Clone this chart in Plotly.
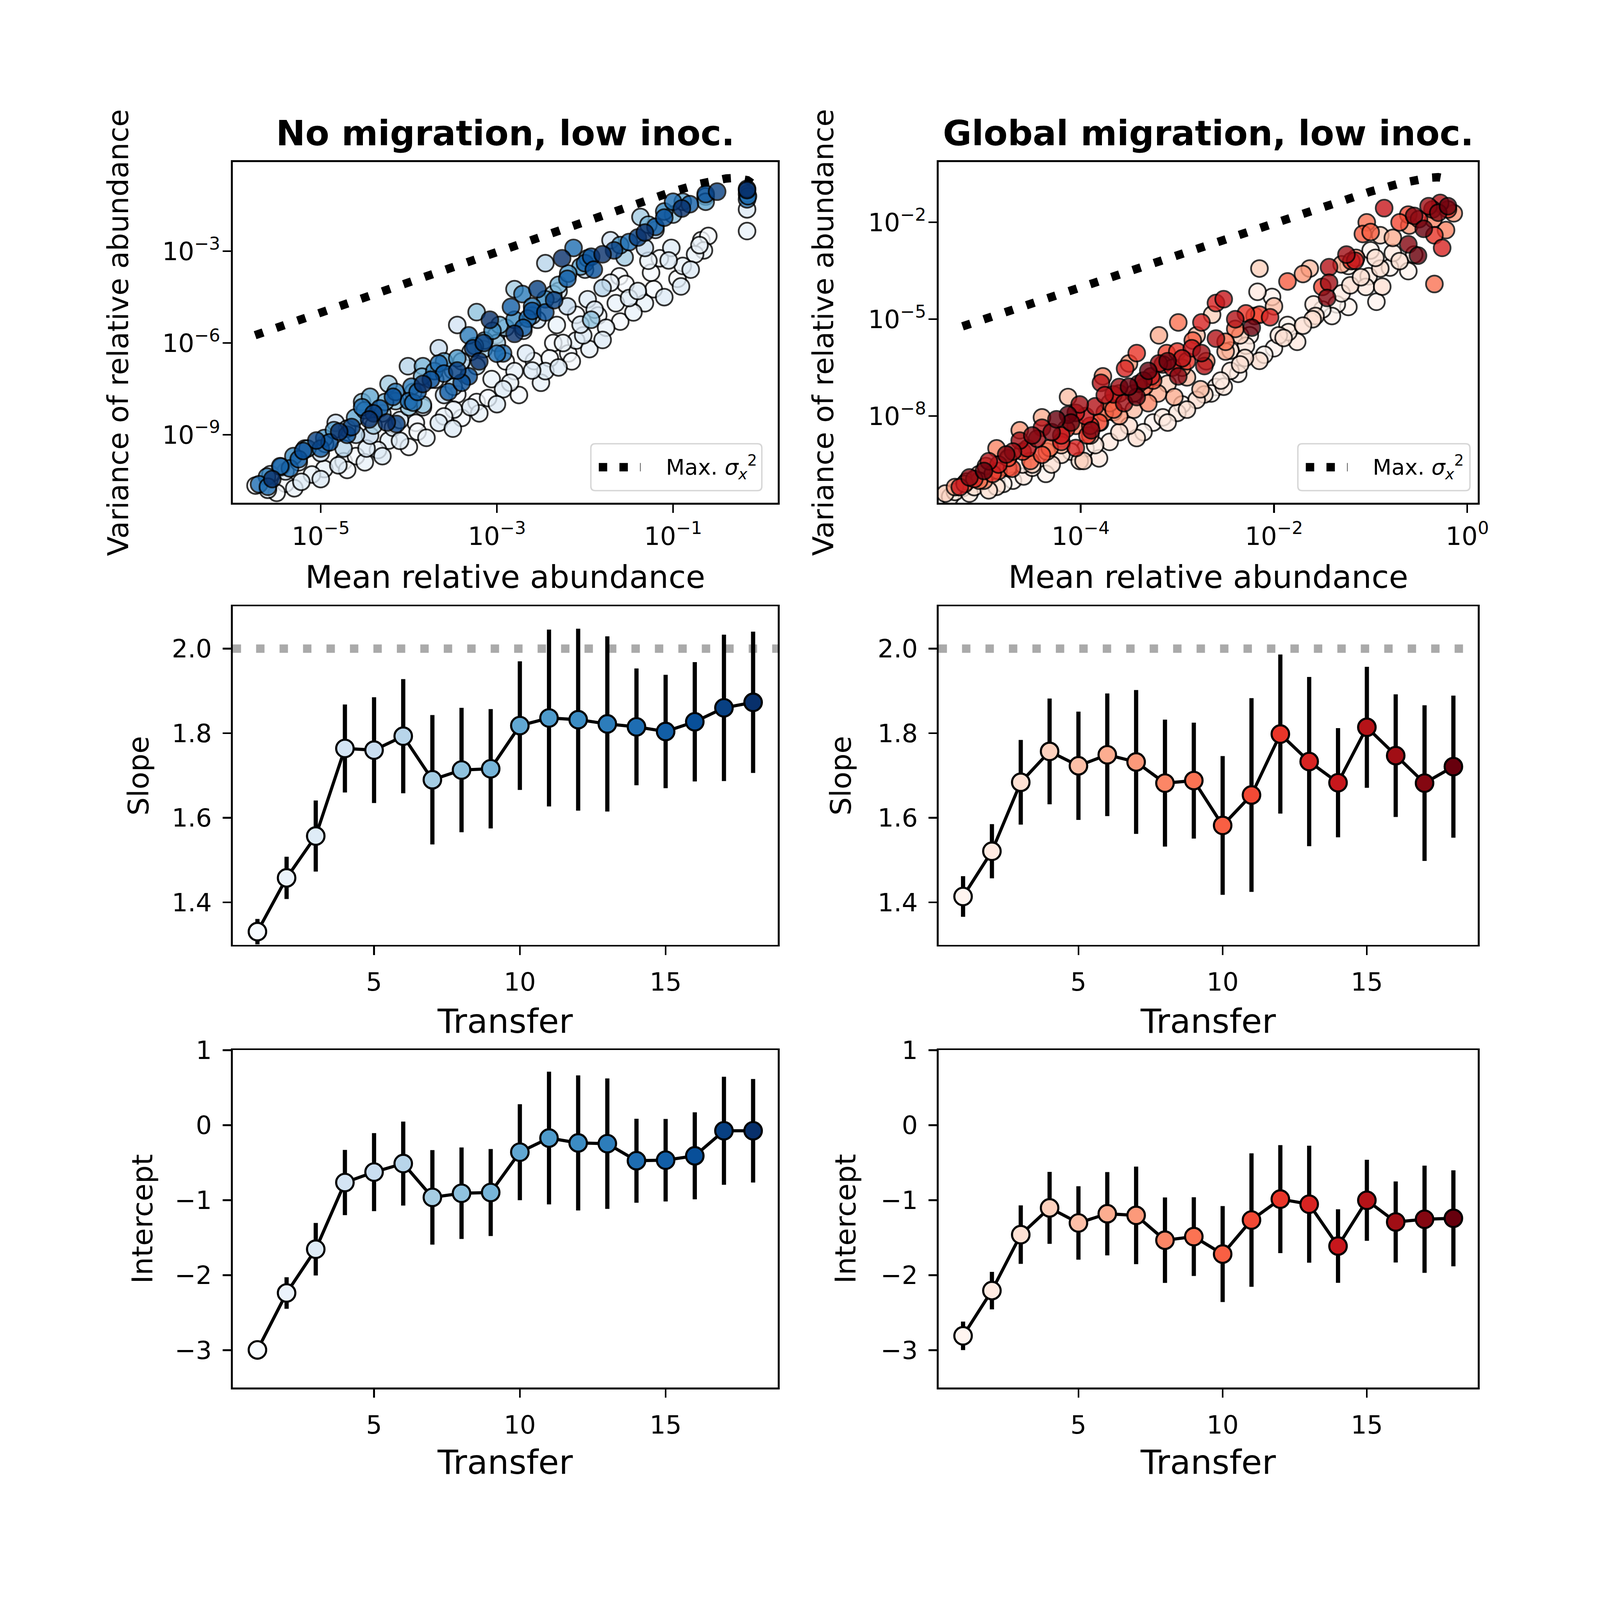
import plotly.graph_objects as go
from plotly.subplots import make_subplots
from plotly.colors import sequential, sample_colorscale

FONT = "DejaVu Sans"
FIG_W, FIG_H = 4570, 4536

transfers = list(range(1, 19))

# fitted Taylor's law slope / intercept (mean and error) per transfer
nomig_slope = [1.331, 1.458, 1.557, 1.764, 1.760, 1.793, 1.690, 1.713, 1.716,
               1.818, 1.836, 1.832, 1.822, 1.815, 1.804, 1.827, 1.860, 1.873]
nomig_slope_err = [0.030, 0.050, 0.084, 0.104, 0.125, 0.135, 0.153, 0.147, 0.141,
                   0.152, 0.209, 0.215, 0.207, 0.138, 0.134, 0.141, 0.173, 0.167]
nomig_icpt = [-2.997, -2.238, -1.654, -0.765, -0.626, -0.512, -0.963, -0.908, -0.898,
              -0.360, -0.172, -0.237, -0.247, -0.474, -0.467, -0.409, -0.075, -0.075]
nomig_icpt_err = [0.02, 0.21, 0.35, 0.435, 0.52, 0.56, 0.63, 0.61, 0.58,
                  0.64, 0.885, 0.90, 0.87, 0.56, 0.55, 0.58, 0.72, 0.69]

glob_slope = [1.414, 1.521, 1.684, 1.757, 1.723, 1.749, 1.732, 1.682, 1.688,
              1.582, 1.654, 1.798, 1.733, 1.683, 1.814, 1.747, 1.682, 1.721]
glob_slope_err = [0.048, 0.064, 0.100, 0.125, 0.128, 0.145, 0.170, 0.150, 0.137,
                  0.164, 0.229, 0.188, 0.200, 0.129, 0.143, 0.145, 0.184, 0.168]
glob_icpt = [-2.809, -2.206, -1.460, -1.103, -1.304, -1.181, -1.203, -1.534, -1.486,
             -1.719, -1.265, -0.986, -1.054, -1.612, -1.002, -1.291, -1.255, -1.242]
glob_icpt_err = [0.19, 0.25, 0.39, 0.48, 0.49, 0.555, 0.65, 0.57, 0.525,
                 0.64, 0.89, 0.72, 0.78, 0.49, 0.54, 0.54, 0.715, 0.64]

# scatter clouds: transfer, log10 mean, log10 variance of each species
nomig_transfer = [
    1, 2, 3, 1, 2, 3, 1, 2, 3, 1, 2, 3, 1, 2, 3, 1, 2, 3, 1, 2,
    3, 1, 2, 3, 1, 2, 3, 1, 2, 3, 1, 2, 3, 1, 2, 3, 1, 2, 3, 1,
    2, 3, 1, 2, 3, 1, 2, 3, 1, 2, 3, 1, 2, 3, 1, 2, 3, 1, 2, 3,
    1, 2, 3, 1, 2, 3, 1,
    4, 5, 6, 7, 8, 4, 5, 6, 7, 8, 4, 5, 6, 7, 8, 4, 5, 6, 7, 8,
    4, 5, 6, 7, 8, 4, 5, 6, 7, 8, 4, 5, 6, 7, 8, 4, 5, 6,
    9, 10, 11, 12, 13, 9, 10, 11, 12, 13, 9, 10, 11, 12, 13, 9, 10, 11, 12, 13,
    9, 10,
    14, 15, 16, 17, 18, 14, 15, 16, 17, 18, 14, 15, 16, 17, 18, 14, 15, 16, 17, 18,
    14, 15, 16, 17, 18, 14, 15, 16, 17, 18, 14, 15, 16, 17, 18, 14, 15, 16, 17, 18,
    14, 15, 16, 17, 18, 14, 15, 16, 17, 18, 14,
    1, 2, 3, 1, 2, 3, 1, 2, 3, 1, 2, 3, 1, 2, 3, 1, 2, 3, 1, 2,
    3, 1, 2, 3, 1,
    4, 5, 6, 7, 8, 4, 5, 6, 7, 8, 4, 5, 6, 7, 8,
    9, 10, 11, 12, 13, 9, 10, 11, 12, 13, 9, 10, 11, 12, 13,
    14, 15, 16, 17, 18, 14, 15, 16, 17, 18, 14, 15, 16, 17, 18,
]
nomig_log_mean = [
    -0.68, -0.65, -1.02, -1.15, -0.89, -0.91, -1.22, -1.32, -1.50, -1.61,
    -1.71, -1.97, -2.10, -1.76, -2.02, -2.19, -2.32, -2.45, -2.58, -2.80,
    -2.93, -3.23, -3.49, -3.66, -3.92, -4.23, -4.48, -4.74, -4.96, -5.22,
    -5.74, -0.16, -0.16, -3.45, -3.84, -4.18, -4.44, -3.06, -2.67, -2.36,
    -2.10, -1.89, -1.54, -1.28, -5.60, -5.40, -5.10, -4.80, -4.60, -4.35,
    -4.10, -3.90, -3.60, -3.30, -3.10, -2.85, -2.60, -2.40, -2.25, -2.05,
    -1.85, -1.65, -1.40, -1.25, -0.75, -0.80, -0.95,
    -1.71, -1.32, -2.45, -2.80, -3.23, -3.45, -3.66, -4.01, -4.23, -4.53,
    -4.83, -5.18, -5.57, -2.36, -1.93, -2.54, -3.01, -3.23, -3.49, -3.84,
    -4.10, -4.44, -4.74, -1.37, -0.63, -5.40, -5.00, -4.60, -4.30, -4.00,
    -3.70, -3.50, -3.30, -3.00, -2.60, -2.30, -2.00, -1.20,
    -1.28, -0.89, -2.19, -2.45, -2.71, -2.97, -3.14, -3.45, -3.71, -3.97,
    -4.27, -4.61, -4.96, -5.31, -5.61, -0.16, -0.63, -1.97, -2.80, -3.32,
    -3.84, -4.44,
    -5.70, -5.46, -5.20, -5.05, -4.79, -4.53, -4.33, -4.18, -4.14, -3.84,
    -3.66, -3.55, -3.32, -3.27, -3.08, -2.93, -2.84, -2.60, -2.54, -2.26,
    -2.13, -2.00, -1.93, -1.67, -1.32, -1.00, -0.81, -0.63, -0.16, -5.55,
    -5.35, -5.00, -4.90, -4.65, -4.45, -4.00, -3.90, -3.75, -3.45, -3.20,
    -3.00, -2.70, -2.45, -2.35, -1.80, -1.50, -1.20, -1.10, -0.50, -0.16,
    -0.15,
    -5.50, -5.30, -5.00, -4.70, -4.50, -4.30, -4.00, -3.80, -3.50, -3.40,
    -3.20, -3.00, -2.75, -2.50, -2.30, -2.15, -1.95, -1.80, -1.60, -1.45,
    -1.10, -0.60, -0.70, -1.05, -2.90,
    -5.25, -4.95, -4.70, -4.40, -4.15, -3.95, -3.60, -3.40, -3.15, -2.90,
    -2.70, -2.20, -1.80, -1.55, -1.00,
    -5.45, -5.15, -4.85, -4.50, -4.15, -3.85, -3.60, -3.25, -3.05, -2.60,
    -2.30, -2.05, -1.60, -1.10, -0.16,
    -5.60, -5.25, -4.70, -4.40, -4.25, -3.95, -3.60, -3.40, -3.15, -2.80,
    -2.65, -2.20, -1.90, -1.40, -0.90,
]
nomig_log_var = [
    -2.64, -2.97, -2.89, -3.23, -3.48, -4.15, -4.24, -4.70, -4.53, -3.82,
    -4.03, -4.57, -5.08, -5.50, -5.75, -6.34, -5.41, -6.92, -6.59, -6.92,
    -7.51, -7.93, -8.18, -8.61, -8.61, -9.19, -9.45, -9.87, -10.12, -10.54,
    -10.66, -2.34, -1.63, -7.68, -8.10, -8.77, -8.44, -7.18, -6.34, -6.00,
    -5.92, -4.91, -4.07, -3.31, -10.80, -10.60, -10.30, -10.00, -9.70, -9.50,
    -9.20, -8.90, -8.40, -8.10, -7.80, -7.30, -6.90, -6.50, -6.00, -5.40,
    -5.10, -4.70, -4.30, -3.70, -3.10, -3.60, -3.90,
    -2.64, -2.89, -3.39, -4.24, -4.99, -5.41, -6.17, -6.76, -7.34, -7.93,
    -8.61, -9.45, -10.29, -4.40, -5.24, -5.24, -5.75, -6.76, -7.43, -8.02,
    -8.52, -9.03, -9.45, -1.88, -1.21, -10.20, -9.60, -9.00, -8.30, -8.10,
    -7.20, -6.90, -6.30, -6.00, -5.10, -4.30, -3.60, -2.30,
    -2.13, -1.38, -3.73, -4.57, -4.40, -5.41, -5.92, -6.50, -6.92, -7.43,
    -7.93, -8.44, -9.11, -9.70, -10.37, -1.13, -1.38, -3.23, -5.24, -5.75,
    -6.76, -7.76,
    -10.62, -10.03, -9.53, -9.19, -8.90, -8.10, -8.14, -7.76, -8.65, -7.34,
    -6.67, -7.60, -7.09, -6.17, -5.24, -6.34, -4.82, -4.95, -4.24, -3.23,
    -2.89, -3.39, -3.18, -2.97, -2.39, -1.38, -1.46, -1.13, -0.96, -10.45,
    -10.10, -9.45, -9.25, -8.75, -8.50, -7.90, -7.60, -7.20, -6.90, -6.60,
    -6.35, -5.50, -5.00, -4.60, -3.10, -2.70, -2.20, -1.90, -1.05, -1.00,
    -1.20,
    -10.90, -10.75, -10.45, -10.15, -9.90, -9.70, -9.40, -9.10, -8.80, -8.45,
    -8.30, -8.00, -7.70, -7.30, -6.80, -6.60, -6.20, -5.90, -5.30, -5.00,
    -4.50, -2.50, -2.80, -3.30, -6.60,
    -9.90, -9.30, -8.80, -8.70, -7.90, -7.60, -7.70, -6.60, -6.20, -5.50,
    -5.60, -4.80, -4.20, -3.20, -1.80,
    -10.05, -9.45, -8.85, -8.20, -7.60, -7.10, -6.60, -6.10, -5.60, -4.80,
    -4.10, -3.50, -2.80, -1.70, -1.30,
    -10.70, -9.80, -9.00, -8.30, -8.60, -7.95, -7.00, -7.30, -6.00, -5.70,
    -5.20, -3.90, -3.60, -2.55, -1.60,
]

glob_transfer = [
    1, 2, 3, 1, 2, 3, 1, 2, 3, 1, 2, 3, 1, 2, 3, 1, 2, 3, 1, 2,
    3, 1, 2, 3, 1, 2, 3, 1, 2, 3, 1, 2, 3, 1, 2, 3, 1, 2, 3, 1,
    2, 3, 1, 2, 3, 1, 2, 3, 1, 2, 3, 1, 2, 3,
    4, 5, 6, 7, 8, 4, 5, 6, 7, 8, 4, 5, 6, 7, 8, 4, 5, 6, 7, 8,
    4, 5, 6, 7, 8, 4, 5, 6, 7, 8, 4,
    9, 10, 11, 12, 13, 9, 10, 11, 12, 13, 9, 10, 11, 12, 13, 9, 10, 11, 12, 13,
    9, 10, 11, 12, 13, 9, 10, 11, 12, 13, 9, 10, 11, 12, 13, 9, 10, 11, 12,
    14, 15, 16, 17, 18, 14, 15, 16, 17, 18, 14, 15, 16, 17, 18, 14, 15, 16, 17, 18,
    14, 15, 16, 17, 18, 14, 15, 16, 17, 18, 14, 15, 16, 17, 18, 14, 15, 16, 17, 18,
    14, 15, 16, 17, 18,
    1, 2, 3, 1, 2, 3, 1, 2, 3, 1, 2, 3, 1, 2, 3, 1, 2, 3, 1, 2,
    3, 1, 2, 3, 1,
    4, 5, 6, 7, 8, 4, 5, 6, 7, 8, 4, 5, 6, 7, 8,
    9, 10, 11, 12, 13, 9, 10, 11, 12, 13, 9, 10, 11, 12, 13,
    14, 15, 16, 17, 18, 14, 15, 16, 17, 18, 14, 15, 16, 17, 18,
]
glob_log_mean = [
    -1.00, -0.77, -0.90, -0.61, -1.02, -0.88, -0.94, -1.23, -1.21, -1.23,
    -1.59, -1.57, -1.86, -1.76, -1.90, -2.02, -2.17, -2.15, -2.37, -2.52,
    -2.72, -2.95, -3.15, -3.42, -3.66, -3.81, -4.01, -4.36, -4.59, -4.87,
    -5.22, -2.29, -2.45, -1.35, -5.30, -5.10, -4.70, -4.50, -4.20, -3.95,
    -3.70, -3.50, -3.25, -3.00, -2.80, -2.60, -2.45, -2.30, -2.00, -1.85,
    -1.60, -1.40, -1.05, -0.70,
    -2.15, -1.63, -0.77, -0.14, -0.22, -2.64, -2.80, -3.19, -3.50, -3.77,
    -3.97, -4.13, -4.40, -4.63, -4.87, -5.18, -2.76, -3.03, -5.30, -5.00,
    -4.50, -4.20, -3.90, -3.60, -3.30, -3.10, -2.90, -2.50, -1.70, -1.15,
    -0.90,
    -1.04, -1.08, -0.61, -0.34, -0.26, -0.34, -1.86, -2.15, -2.29, -2.04,
    -2.99, -2.84, -3.11, -3.42, -3.54, -3.34, -3.66, -3.81, -3.93, -4.05,
    -4.32, -4.52, -4.71, -4.91, -5.10, -4.98, -5.20, -4.75, -4.60, -4.20,
    -3.75, -3.60, -3.25, -3.00, -2.60, -2.40, -1.00, -0.70, -0.20,
    -0.86, -0.28, -0.36, -0.61, -0.51, -1.16, -1.43, -1.43, -1.45, -2.23,
    -2.52, -2.72, -3.19, -2.99, -3.42, -3.66, -3.79, -4.01, -3.89, -4.13,
    -4.20, -4.40, -4.63, -4.77, -3.50, -3.27, -2.95, -2.75, -5.15, -5.00,
    -4.85, -4.55, -4.45, -4.30, -4.10, -3.95, -3.85, -3.55, -3.40, -3.30,
    -3.05, -2.60, -0.40, -0.30, -0.45,
    -5.35, -5.15, -4.95, -4.80, -4.60, -4.30, -4.10, -3.85, -3.60, -3.35,
    -3.10, -2.90, -2.65, -2.55, -2.35, -2.10, -1.95, -1.70, -1.50, -1.30,
    -1.10, -0.80, -0.55, -0.95, -2.25,
    -5.40, -5.05, -4.75, -4.35, -4.05, -3.80, -3.45, -3.20, -2.95, -2.70,
    -2.35, -2.00, -1.30, -0.60, -0.35,
    -5.05, -4.85, -4.40, -4.15, -3.90, -3.70, -3.45, -3.15, -2.90, -2.75,
    -2.50, -2.20, -1.50, -1.20, -0.50,
    -5.25, -4.95, -4.70, -4.50, -4.25, -4.05, -3.75, -3.60, -3.35, -3.10,
    -2.85, -2.40, -1.25, -0.55, -0.20,
]
glob_log_var = [
    -2.87, -2.95, -3.43, -3.51, -3.67, -3.99, -4.46, -3.35, -3.95, -4.62,
    -4.54, -4.90, -5.18, -5.70, -5.58, -4.31, -4.15, -6.29, -6.69, -7.09,
    -7.33, -7.64, -8.04, -8.68, -7.88, -9.31, -9.39, -9.79, -9.87, -10.19,
    -10.23, -5.82, -5.97, -4.54, -10.35, -10.20, -10.00, -9.60, -9.20, -9.00,
    -8.80, -8.30, -8.20, -7.90, -7.50, -7.10, -6.60, -6.20, -5.90, -5.40,
    -5.00, -4.90, -4.00, -3.20,
    -3.43, -3.43, -2.48, -1.72, -2.24, -4.86, -5.50, -5.50, -6.37, -6.77,
    -9.39, -7.41, -8.04, -8.44, -9.00, -10.03, -7.17, -7.41, -10.20, -10.00,
    -9.50, -8.90, -8.60, -8.00, -7.60, -7.00, -6.80, -6.00, -3.60, -3.10,
    -2.40,
    -2.00, -2.36, -1.76, -2.40, -2.79, -3.91, -3.83, -4.86, -4.82, -4.94,
    -5.10, -5.66, -6.05, -6.05, -6.53, -7.09, -7.80, -8.20, -8.60, -8.99,
    -8.99, -9.39, -9.63, -9.79, -9.95, -9.55, -10.10, -9.30, -9.10, -8.80,
    -7.90, -7.30, -6.90, -6.00, -4.50, -5.30, -2.30, -2.00, -1.60,
    -1.56, -1.40, -1.60, -2.68, -3.03, -3.19, -3.39, -3.87, -4.34, -5.26,
    -4.38, -6.45, -6.37, -6.77, -7.41, -7.33, -6.97, -7.64, -8.44, -7.96,
    -8.60, -8.36, -8.76, -9.19, -7.09, -6.77, -6.21, -6.05, -9.90, -9.70,
    -9.50, -9.00, -8.70, -8.50, -8.20, -8.00, -7.70, -7.60, -7.00, -6.60,
    -6.50, -5.60, -1.50, -1.70, -2.20,
    -10.50, -10.40, -10.30, -10.10, -9.50, -9.50, -9.10, -8.90, -8.50, -8.50,
    -8.20, -7.80, -7.30, -6.90, -6.40, -6.10, -5.50, -5.20, -4.70, -4.20,
    -3.70, -3.40, -3.00, -3.10, -5.50,
    -10.40, -9.80, -9.60, -9.10, -8.30, -8.20, -7.80, -7.30, -6.50, -6.30,
    -5.50, -4.60, -3.30, -2.10, -1.90,
    -10.00, -9.70, -9.20, -8.40, -8.30, -7.60, -7.30, -6.40, -6.30, -5.10,
    -5.70, -4.90, -4.00, -3.20, -1.90,
    -10.20, -9.40, -9.10, -8.60, -8.10, -7.90, -7.35, -7.10, -6.90, -6.30,
    -5.90, -5.00, -3.00, -1.80, -1.50,
]

# maximum possible variance curve
nomig_max_mean = [1.8e-6, 1e-5, 1e-4, 1e-3, 1e-2, 0.05, 0.1, 0.2, 0.3, 0.4, 0.5, 0.6, 0.7, 0.78]
nomig_max_var = [1.8e-6, 1e-5, 1e-4, 1e-3, 0.0099, 0.0475, 0.09, 0.16, 0.21, 0.24, 0.25, 0.24, 0.21, 0.17]
glob_max_mean = [6e-6, 1e-5, 1e-4, 1e-3, 1e-2, 0.05, 0.1, 0.2, 0.3, 0.4, 0.5, 0.6, 0.69]
glob_max_var = [6e-6, 1e-5, 1e-4, 1e-3, 0.0099, 0.0475, 0.09, 0.16, 0.21, 0.24, 0.25, 0.24, 0.21]

titles = ["No migration, low inoc.", "Global migration, low inoc."]
legend_label = "Max. <i>σ</i><sub><i>x</i></sub><sup>2</sup>"


def transfer_colors(scale, ts):
    return sample_colorscale(scale, [(t - 1) / 17 for t in ts])


def cloud(ts, log_mean, log_var, scale):
    order = sorted(range(len(ts)), key=lambda i: ts[i])
    return go.Scatter(
        x=[10 ** log_mean[i] for i in order],
        y=[10 ** log_var[i] for i in order],
        mode="markers",
        marker=dict(size=48, color=transfer_colors(scale, [ts[i] for i in order]),
                    opacity=0.8, line=dict(color="black", width=5)),
        showlegend=False,
    )


def max_line(x, y):
    return go.Scatter(
        x=x, y=y, mode="lines", name="Max. σ²",
        line=dict(color="black", width=24, dash="24px,40px"),
        showlegend=False,
    )


def summary(vals, errs, scale):
    return go.Scatter(
        x=transfers, y=vals, mode="lines+markers",
        line=dict(color="black", width=9),
        marker=dict(size=50, color=transfer_colors(scale, transfers),
                    line=dict(color="black", width=6)),
        error_y=dict(type="data", array=errs, color="black", thickness=12, width=0),
        showlegend=False,
    )


fig = make_subplots(rows=3, cols=2)

fig.add_trace(max_line(nomig_max_mean, nomig_max_var), row=1, col=1)
fig.add_trace(cloud(nomig_transfer, nomig_log_mean, nomig_log_var, sequential.Blues), row=1, col=1)
fig.add_trace(max_line(glob_max_mean, glob_max_var), row=1, col=2)
fig.add_trace(cloud(glob_transfer, glob_log_mean, glob_log_var, sequential.Reds), row=1, col=2)

fig.add_trace(summary(nomig_slope, nomig_slope_err, sequential.Blues), row=2, col=1)
fig.add_trace(summary(glob_slope, glob_slope_err, sequential.Reds), row=2, col=2)
fig.add_trace(summary(nomig_icpt, nomig_icpt_err, sequential.Blues), row=3, col=1)
fig.add_trace(summary(glob_icpt, glob_icpt_err, sequential.Reds), row=3, col=2)

for c in (1, 2):
    fig.add_hline(y=2.0, line=dict(color="#aaaaaa", width=24, dash="24px,43px"),
                  layer="below", row=2, col=c)

axis_style = dict(
    showline=True, linecolor="black", linewidth=5, mirror=True,
    ticks="outside", ticklen=24, tickwidth=5, tickcolor="black",
    showgrid=False, zeroline=False,
    tickfont=dict(family=FONT, size=72, color="black"),
    ticklabelstandoff=16,
)

col_dom = [[0.1464, 0.4895], [0.5906, 0.9300]]
row_dom = [[0.6897, 0.9064], [0.4089, 0.6240], [0.1274, 0.3419]]
for r in range(3):
    for c in range(2):
        fig.update_xaxes(domain=col_dom[c], row=r + 1, col=c + 1, **axis_style)
        fig.update_yaxes(domain=row_dom[r], row=r + 1, col=c + 1, **axis_style)


def pow_label(e):
    return "10<sup>" + str(e).replace("-", "−") + "</sup>"


fig.update_xaxes(type="log", range=[-6.0, 0.19], tickvals=[1e-5, 1e-3, 1e-1],
                 ticktext=[pow_label(e) for e in (-5, -3, -1)], ticklabelstandoff=4,
                 row=1, col=1)
fig.update_yaxes(type="log", range=[-11.23, -0.08], tickvals=[1e-9, 1e-6, 1e-3],
                 ticktext=[pow_label(e) for e in (-9, -6, -3)], ticklabelstandoff=-8,
                 row=1, col=1)
fig.update_xaxes(type="log", range=[-5.47, 0.11], tickvals=[1e-4, 1e-2, 1],
                 ticktext=[pow_label(e) for e in (-4, -2, 0)], ticklabelstandoff=4,
                 row=1, col=2)
fig.update_yaxes(type="log", range=[-10.69, -0.13], tickvals=[1e-8, 1e-5, 1e-2],
                 ticktext=[pow_label(e) for e in (-8, -5, -2)], ticklabelstandoff=-8,
                 row=1, col=2)

for c in (1, 2):
    for r in (2, 3):
        fig.update_xaxes(range=[0.15, 18.85], tickvals=[5, 10, 15], row=r, col=c)
    fig.update_yaxes(range=[1.3, 2.1], tickvals=[1.4, 1.6, 1.8, 2.0],
                     ticktext=["1.4", "1.6", "1.8", "2.0"], row=2, col=c)
    fig.update_yaxes(range=[-3.5, 1], tickvals=[-3, -2, -1, 0, 1],
                     ticktext=["−3", "−2", "−1", "0", "1"], row=3, col=c)

# legend boxes drawn by hand (matplotlib style: rounded frame, dotted handle)
box_x = [[0.3718, 0.4794], [0.8167, 0.9250]]
box_y = [0.6975, 0.7273]
handle_x = [[0.3768, 0.4031], [0.8217, 0.8480]]
text_x = [0.4186, 0.8635]
rx, ry = 0.0028, 0.0028
for c in range(2):
    x0, x1 = box_x[c]
    y0, y1 = box_y
    path = (f"M{x0 + rx},{y0} L{x1 - rx},{y0} Q{x1},{y0} {x1},{y0 + ry} "
            f"L{x1},{y1 - ry} Q{x1},{y1} {x1 - rx},{y1} L{x0 + rx},{y1} "
            f"Q{x0},{y1} {x0},{y1 - ry} L{x0},{y0 + ry} Q{x0},{y0} {x0 + rx},{y0} Z")
    fig.add_shape(type="path", path=path, xref="paper", yref="paper",
                  fillcolor="rgba(255,255,255,0.8)", line=dict(color="#d6d6d6", width=4))
    ymid = (y0 + y1) / 2
    fig.add_shape(type="line", xref="paper", yref="paper",
                  x0=handle_x[c][0], x1=handle_x[c][1], y0=ymid, y1=ymid,
                  line=dict(color="black", width=24, dash="24px,35px"))
    fig.add_annotation(text=legend_label, x=text_x[c], y=ymid, xref="paper", yref="paper",
                       xanchor="left", yanchor="middle", showarrow=False,
                       font=dict(family=FONT, size=62, color="black"))

col_mid = [(d[0] + d[1]) / 2 for d in col_dom]
labels = []
for c in range(2):
    labels.append(dict(text="<b>" + titles[c] + "</b>", x=col_mid[c], y=0.9247, size=100, angle=0))
    labels.append(dict(text="Mean relative abundance", x=col_mid[c], y=0.6428, size=90, angle=0))
    labels.append(dict(text="Transfer", x=col_mid[c], y=0.3602, size=96, angle=0))
    labels.append(dict(text="Transfer", x=col_mid[c], y=0.0798, size=96, angle=0))
ylab_x = [[0.0744, 0.518], [0.0871, 0.529], [0.0897, 0.532]]
ylab_text = ["Variance of relative abundance", "Slope", "Intercept"]
for r in range(3):
    for c in range(2):
        labels.append(dict(text=ylab_text[r], x=ylab_x[r][c],
                           y=(row_dom[r][0] + row_dom[r][1]) / 2, size=82, angle=-90))

for lab in labels:
    fig.add_annotation(
        text=lab["text"], x=lab["x"], y=lab["y"], xref="paper", yref="paper",
        xanchor="center", yanchor="middle", showarrow=False, textangle=lab["angle"],
        font=dict(family=FONT, size=lab["size"], color="black"),
    )

fig.update_layout(
    width=FIG_W, height=FIG_H,
    margin=dict(l=0, r=0, t=0, b=0),
    plot_bgcolor="white", paper_bgcolor="white",
    font=dict(family=FONT, color="black"),
    showlegend=False,
)

# shrink the fixed-size figure to the browser viewport if that is smaller
fit_js = """
document.documentElement.style.overflow = 'hidden';
document.body.style.margin = '0';
document.body.style.overflow = 'hidden';
var gd = document.getElementById('{plot_id}');
var s = Math.min(window.innerWidth / %d, window.innerHeight / %d);
if (s < 1) {
    gd.style.transformOrigin = '0 0';
    gd.style.transform = 'scale(' + s + ')';
}
""" % (FIG_W, FIG_H)

fig.write_html("out.html", post_script=fit_js, config={"displayModeBar": False})
